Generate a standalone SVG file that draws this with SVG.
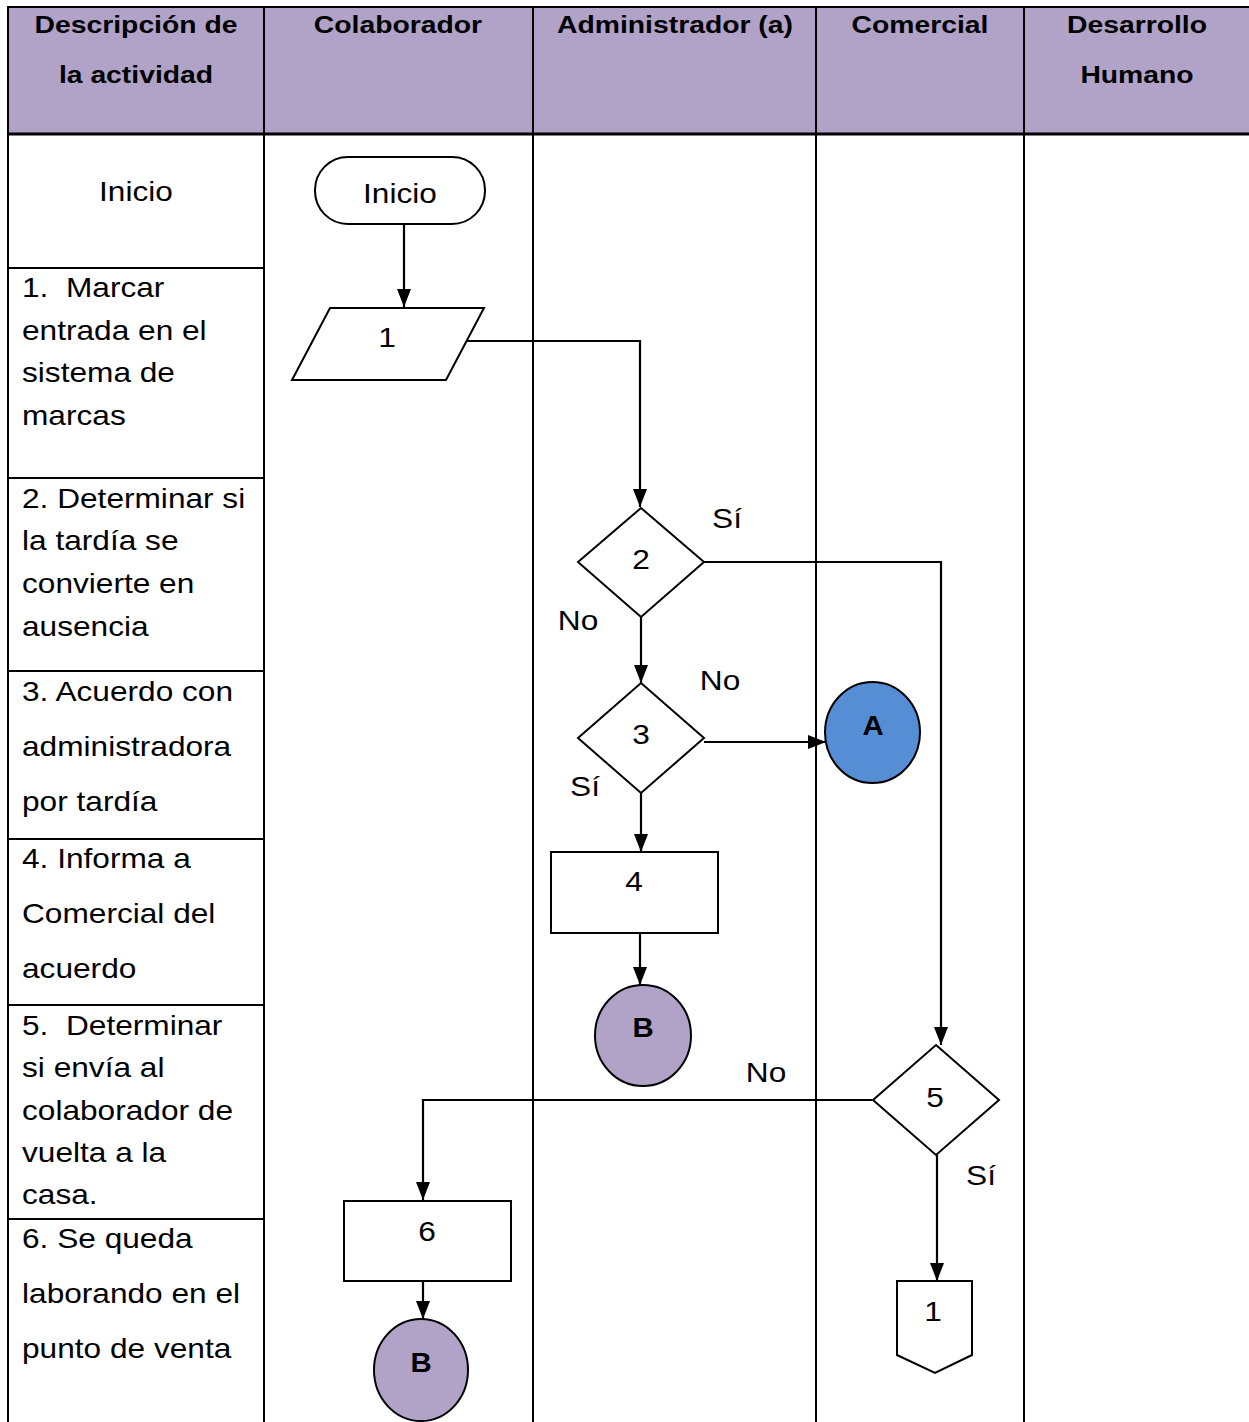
<svg xmlns="http://www.w3.org/2000/svg" width="1249" height="1422" viewBox="0 0 1249 1422">
<style>
  .hdr{font-family:"Liberation Sans",Arial,sans-serif;font-weight:bold;font-size:24px;fill:#000;text-anchor:middle}
  .desc{font-family:"Liberation Sans",Arial,sans-serif;font-size:28px;fill:#000;white-space:pre}
  .lbl{font-family:"Liberation Sans",Arial,sans-serif;font-size:28px;fill:#000;text-anchor:middle}
  .bold{font-weight:bold}
  .grid{stroke:#000;stroke-width:2;fill:none}
  .shape{stroke:#000;stroke-width:2;fill:#fff}
  .conn{stroke:#000;stroke-width:2.2;fill:none}
</style>
<defs>
  <marker id="arr" markerUnits="userSpaceOnUse" markerWidth="18" markerHeight="18" viewBox="0 0 18 18" refX="18" refY="9" orient="auto">
    <path d="M0,2 L18,9 L0,16 Z" fill="#000"/>
  </marker>
</defs>
<rect width="1249" height="1422" fill="#fff"/>
<g id="table">
  <rect x="8" y="7" width="1245" height="127" fill="#B1A3C8"/>
  <line class="grid" x1="8" y1="7" x2="1249" y2="7"/>
  <line class="grid" x1="8" y1="134" x2="1249" y2="134" style="stroke-width:3"/>
  <line class="grid" x1="8" y1="6" x2="8" y2="1422"/>
  <line class="grid" x1="264" y1="6" x2="264" y2="1422"/>
  <line class="grid" x1="533" y1="6" x2="533" y2="1422"/>
  <line class="grid" x1="816" y1="6" x2="816" y2="1422"/>
  <line class="grid" x1="1024" y1="6" x2="1024" y2="1422"/>
  <line class="grid" x1="8" y1="268" x2="264" y2="268"/>
  <line class="grid" x1="8" y1="478" x2="264" y2="478"/>
  <line class="grid" x1="8" y1="671" x2="264" y2="671"/>
  <line class="grid" x1="8" y1="839" x2="264" y2="839"/>
  <line class="grid" x1="8" y1="1005" x2="264" y2="1005"/>
  <line class="grid" x1="8" y1="1219" x2="264" y2="1219"/>
</g>
<g id="headers">
  <text class="hdr" transform="translate(136,33) scale(1.18,1)">Descripción de</text>
  <text class="hdr" transform="translate(136,83) scale(1.18,1)">la actividad</text>
  <text class="hdr" transform="translate(398,33) scale(1.18,1)">Colaborador</text>
  <text class="hdr" transform="translate(675,33) scale(1.18,1)">Administrador (a)</text>
  <text class="hdr" transform="translate(920,33) scale(1.18,1)">Comercial</text>
  <text class="hdr" transform="translate(1137,33) scale(1.18,1)">Desarrollo</text>
  <text class="hdr" transform="translate(1137,83) scale(1.18,1)">Humano</text>
</g>
<g id="descriptions" transform="scale(1.13,1)">
  <text class="desc" x="120.35" y="201" text-anchor="middle">Inicio</text>
  <text class="desc" x="19.5" y="297">1.  Marcar</text>
  <text class="desc" x="19.5" y="340">entrada en el</text>
  <text class="desc" x="19.5" y="382">sistema de</text>
  <text class="desc" x="19.5" y="425">marcas</text>
  <text class="desc" x="19.5" y="508">2. Determinar si</text>
  <text class="desc" x="19.5" y="550">la tardía se</text>
  <text class="desc" x="19.5" y="593">convierte en</text>
  <text class="desc" x="19.5" y="636">ausencia</text>
  <text class="desc" x="19.5" y="701">3. Acuerdo con</text>
  <text class="desc" x="19.5" y="756">administradora</text>
  <text class="desc" x="19.5" y="811">por tardía</text>
  <text class="desc" x="19.5" y="868">4. Informa a</text>
  <text class="desc" x="19.5" y="923">Comercial del</text>
  <text class="desc" x="19.5" y="978">acuerdo</text>
  <text class="desc" x="19.5" y="1035">5.  Determinar</text>
  <text class="desc" x="19.5" y="1077">si envía al</text>
  <text class="desc" x="19.5" y="1120">colaborador de</text>
  <text class="desc" x="19.5" y="1162">vuelta a la</text>
  <text class="desc" x="19.5" y="1204">casa.</text>
  <text class="desc" x="19.5" y="1248">6. Se queda</text>
  <text class="desc" x="19.5" y="1303">laborando en el</text>
  <text class="desc" x="19.5" y="1358">punto de venta</text>
</g>
<g id="connectors">
  <line class="conn" x1="404" y1="224" x2="404" y2="307" marker-end="url(#arr)"/>
  <polyline class="conn" points="467,341 640,341 640,507" marker-end="url(#arr)"/>
  <polyline class="conn" points="704,562 941,562 941,1045" marker-end="url(#arr)"/>
  <line class="conn" x1="641" y1="617" x2="641" y2="683" marker-end="url(#arr)"/>
  <line class="conn" x1="704" y1="742" x2="826" y2="742" marker-end="url(#arr)"/>
  <line class="conn" x1="641" y1="793" x2="641" y2="852" marker-end="url(#arr)"/>
  <line class="conn" x1="640" y1="933" x2="640" y2="985" marker-end="url(#arr)"/>
  <polyline class="conn" points="872,1100 423,1100 423,1200" marker-end="url(#arr)"/>
  <line class="conn" x1="937" y1="1155" x2="937" y2="1281" marker-end="url(#arr)"/>
  <line class="conn" x1="423" y1="1281" x2="423" y2="1319" marker-end="url(#arr)"/>
  <text class="lbl" transform="translate(727,528) scale(1.13,1)">Sí</text>
  <text class="lbl" transform="translate(578,630) scale(1.13,1)">No</text>
  <text class="lbl" transform="translate(720,690) scale(1.13,1)">No</text>
  <text class="lbl" transform="translate(585,796) scale(1.13,1)">Sí</text>
  <text class="lbl" transform="translate(766,1082) scale(1.13,1)">No</text>
  <text class="lbl" transform="translate(981,1185) scale(1.13,1)">Sí</text>
</g>
<g id="n-inicio">
  <rect class="shape" x="315" y="157" width="170" height="67" rx="33" ry="33"/>
  <text class="lbl" transform="translate(400,203) scale(1.13,1)">Inicio</text>
</g>
<g id="n-1">
  <polygon class="shape" points="330,308 484,308 446,380 292,380"/>
  <text class="lbl" transform="translate(387,347) scale(1.13,1)">1</text>
</g>
<g id="n-2">
  <polygon class="shape" points="641,508 704,562 641,617 578,562"/>
  <text class="lbl" transform="translate(641,569) scale(1.13,1)">2</text>
</g>
<g id="n-3">
  <polygon class="shape" points="641,683 704,738 641,793 578,738"/>
  <text class="lbl" transform="translate(641,744) scale(1.13,1)">3</text>
</g>
<g id="n-A">
  <ellipse cx="872.5" cy="732.5" rx="47.5" ry="50.5" style="fill:#558ED5;stroke:#000;stroke-width:2"/>
  <text class="lbl bold" transform="translate(873,735) scale(1.05,1)">A</text>
</g>
<g id="n-4">
  <rect class="shape" x="551" y="852" width="167" height="81"/>
  <text class="lbl" transform="translate(634,891) scale(1.13,1)">4</text>
</g>
<g id="n-B1">
  <ellipse cx="643" cy="1035.5" rx="48" ry="50.5" style="fill:#B1A3C8;stroke:#000;stroke-width:2"/>
  <text class="lbl bold" transform="translate(643,1037) scale(1.05,1)">B</text>
</g>
<g id="n-5">
  <polygon class="shape" points="936,1045 999,1100 936,1155 873,1100"/>
  <text class="lbl" transform="translate(935,1107) scale(1.13,1)">5</text>
</g>
<g id="n-6">
  <rect class="shape" x="344" y="1201" width="167" height="80"/>
  <text class="lbl" transform="translate(427,1241) scale(1.13,1)">6</text>
</g>
<g id="n-B2">
  <ellipse cx="421" cy="1370" rx="47" ry="51" style="fill:#B1A3C8;stroke:#000;stroke-width:2"/>
  <text class="lbl bold" transform="translate(421,1372) scale(1.05,1)">B</text>
</g>
<g id="n-off1">
  <polygon class="shape" points="897,1281 972,1281 972,1355 935,1373 897,1355"/>
  <text class="lbl" transform="translate(933,1321) scale(1.13,1)">1</text>
</g>
</svg>
